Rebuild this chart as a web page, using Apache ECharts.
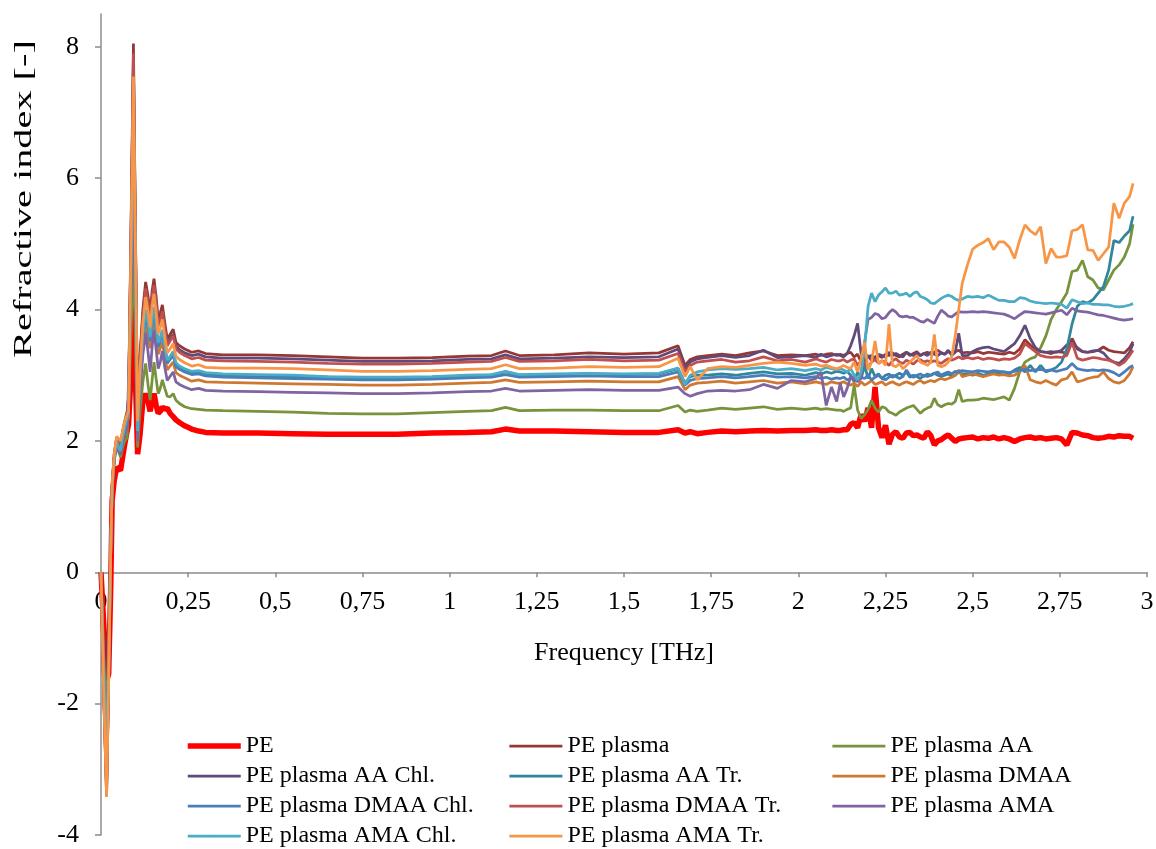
<!DOCTYPE html>
<html>
<head>
<meta charset="utf-8">
<title>Refractive index</title>
<script src="https://cdn.jsdelivr.net/npm/echarts@6.0.0/dist/echarts.min.js"></script>
<style>
  html, body { margin: 0; padding: 0; background: #fff; }
  #chart { width: 1156px; height: 849px; }
</style>
</head>
<body>
<div id="chart"></div>
<script>
// shared frequency grid [THz]: dense at the start and in the noisy tail
const freq = [
  0, 0.008, 0.016, 0.022, 0.028, 0.032, 0.038, 0.045, 0.05, 0.056, 0.062, 0.068, 0.075, 0.079, 0.086, 0.093, 0.099, 0.105, 0.112, 0.12,
  0.128, 0.135, 0.141, 0.147, 0.152, 0.158, 0.164, 0.17, 0.176, 0.183, 0.19, 0.198, 0.207, 0.215, 0.225, 0.24, 0.26, 0.28, 0.3,
  0.35, 0.45, 0.55, 0.65, 0.75, 0.85, 0.95, 1.05, 1.12, 1.16, 1.2, 1.3, 1.4, 1.5, 1.6, 1.655, 1.675, 1.69, 1.71, 1.74,
  1.78, 1.82, 1.86, 1.9, 1.94, 1.98, 2.02, 2.05, 2.065, 2.08, 2.095, 2.11,
  2.12, 2.13, 2.14, 2.15, 2.16, 2.17, 2.18, 2.19, 2.2, 2.21, 2.22, 2.23, 2.24, 2.25, 2.26, 2.27, 2.28, 2.29, 2.3, 2.31,
  2.32, 2.33, 2.34, 2.35, 2.36, 2.37, 2.38, 2.39, 2.4, 2.41, 2.42, 2.43, 2.44, 2.45, 2.46, 2.47,
  2.485, 2.5, 2.515, 2.53, 2.545, 2.56, 2.575, 2.59, 2.605, 2.62, 2.635, 2.65, 2.665, 2.68, 2.695, 2.71, 2.725, 2.74,
  2.755, 2.77, 2.785, 2.8, 2.815, 2.83, 2.845, 2.86, 2.875, 2.89, 2.905, 2.92, 2.935, 2.95, 2.96
];

const pe = [
  0, -0.8, -1.65, -1.55, -0.2, 1.1, 1.4, 1.6, 1.6, 1.55, 1.75, 1.95, 2.15, 2.25, 3.0, 4.05, 2.9, 1.8, 2.1, 2.6,
  2.72, 2.6, 2.45, 2.62, 2.72, 2.55, 2.42, 2.45, 2.52, 2.48, 2.5, 2.42, 2.37, 2.32, 2.28, 2.23, 2.18, 2.15, 2.13,
  2.12, 2.12, 2.11, 2.1, 2.1, 2.1, 2.12, 2.13, 2.14, 2.18, 2.15, 2.15, 2.14, 2.13, 2.13, 2.17, 2.12, 2.14, 2.11, 2.13,
  2.15, 2.14, 2.15, 2.16, 2.15, 2.16, 2.16, 2.17, 2.16, 2.16, 2.17, 2.16,
  2.16, 2.17, 2.17, 2.25, 2.28, 2.2, 2.4, 2.3, 2.5, 2.2, 2.82, 2.2, 2.05, 2.24, 1.95, 2.1, 2.14, 2.06, 2.04, 2.12,
  2.13, 2.08, 2.09, 2.06, 2.04, 2.14, 2.08, 1.94, 2.0, 2.02, 2.06, 2.09, 2.04, 1.99, 2.03, 2.04,
  2.05, 2.06, 2.03, 2.05, 2.04, 2.06, 2.03, 2.05, 2.03, 1.99, 2.03, 2.05, 2.06, 2.04, 2.05, 2.03, 2.04, 2.05,
  2.03, 1.94, 2.13, 2.12, 2.09, 2.08, 2.05, 2.04, 2.05, 2.07, 2.06, 2.08, 2.07, 2.07, 2.04
];

const pePlasma = [
  0, -1.9, -3.4, -1.6, 0.4, 1.35, 1.8, 2.05, 2.0, 1.95, 2.15, 2.3, 2.45, 2.65, 5.2, 8.05, 5.1, 2.4, 3.3, 4.0,
  4.42, 4.2, 3.95, 4.3, 4.47, 4.2, 3.85, 3.95, 4.07, 3.8, 3.55, 3.62, 3.7, 3.5, 3.45, 3.4, 3.35, 3.37, 3.33,
  3.31, 3.31, 3.3, 3.28, 3.26, 3.26, 3.27, 3.29, 3.3, 3.37, 3.3, 3.31, 3.34, 3.32, 3.34, 3.45, 3.15, 3.24, 3.28, 3.3,
  3.32, 3.3, 3.34, 3.37, 3.3, 3.31, 3.3, 3.32, 3.3, 3.32, 3.33, 3.3,
  3.32, 3.3, 3.33, 3.35, 3.28, 3.32, 3.2, 3.25, 3.3, 3.22, 3.28, 3.3, 3.27, 3.32, 3.3, 3.34, 3.3, 3.28, 3.32, 3.35,
  3.3, 3.33, 3.36, 3.3, 3.33, 3.35, 3.32, 3.35, 3.38, 3.34, 3.32, 3.36, 3.33, 3.36, 3.38, 3.34,
  3.35, 3.34, 3.36, 3.33, 3.35, 3.34, 3.33, 3.32, 3.35, 3.33, 3.4, 3.54, 3.46, 3.4, 3.36, 3.35, 3.33, 3.36,
  3.35, 3.34, 3.56, 3.4, 3.36, 3.35, 3.36, 3.38, 3.43, 3.38, 3.36, 3.35, 3.34, 3.42, 3.51
];

const plasmaAA = [
  0, -1.3, -2.3, -1.1, 0.35, 1.25, 1.7, 1.95, 1.85, 1.75, 1.9, 2.0, 2.05, 2.02, 3.6, 4.9, 3.5, 1.9, 2.45, 2.9,
  3.18, 2.85, 2.62, 2.95, 3.2, 2.95, 2.72, 2.8, 2.93, 2.8, 2.68, 2.67, 2.72, 2.62, 2.57, 2.52, 2.49, 2.48, 2.47,
  2.46, 2.45, 2.44, 2.42, 2.41, 2.41, 2.43, 2.45, 2.46, 2.51, 2.46, 2.47, 2.47, 2.46, 2.46, 2.54, 2.44, 2.47, 2.45, 2.47,
  2.5, 2.48, 2.5, 2.52, 2.48, 2.5, 2.48, 2.5, 2.48, 2.49, 2.48, 2.47,
  2.47, 2.45, 2.48, 2.5, 2.85, 2.47, 2.34, 2.4, 2.48, 2.62, 2.5, 2.44, 2.52, 2.5, 2.44, 2.42, 2.39, 2.44, 2.47, 2.5,
  2.52, 2.54, 2.48, 2.42, 2.47, 2.5, 2.52, 2.65, 2.55, 2.52, 2.55, 2.57, 2.56, 2.6, 2.78, 2.6,
  2.62, 2.62, 2.63, 2.65, 2.64, 2.63, 2.65, 2.67, 2.62, 2.8, 3.05, 3.2, 3.25, 3.28, 3.42, 3.6, 3.85, 4.0,
  4.12, 4.25, 4.58, 4.6, 4.75, 4.5, 4.45, 4.33, 4.3, 4.45, 4.6, 4.68, 4.8, 5.0, 5.3
];

const plasmaAAChl = [
  0, -1.85, -3.3, -1.55, 0.4, 1.3, 1.75, 2.0, 1.9, 1.85, 2.05, 2.2, 2.35, 2.65, 5.0, 7.8, 4.9, 2.3, 3.25, 3.9,
  4.29, 4.09, 3.86, 4.18, 4.34, 4.09, 3.76, 3.86, 3.97, 3.72, 3.48, 3.55, 3.62, 3.44, 3.39, 3.34, 3.3, 3.32, 3.28,
  3.26, 3.26, 3.25, 3.23, 3.21, 3.21, 3.22, 3.24, 3.25, 3.31, 3.25, 3.26, 3.28, 3.27, 3.28, 3.4, 3.1, 3.2, 3.25, 3.27,
  3.3, 3.27, 3.3, 3.38, 3.27, 3.28, 3.3, 3.27, 3.32, 3.28, 3.3, 3.32,
  3.3, 3.28, 3.33, 3.45, 3.6, 3.79, 3.33, 3.2, 3.28, 3.3, 3.25, 3.32, 3.3, 3.28, 3.35, 3.3, 3.33, 3.3, 3.28, 3.35,
  3.32, 3.3, 3.34, 3.3, 3.33, 3.3, 3.35, 3.32, 3.3, 3.34, 3.32, 3.38, 3.3, 3.35, 3.64, 3.3,
  3.3, 3.36, 3.4, 3.42, 3.43, 3.4, 3.38, 3.36, 3.42, 3.48, 3.6, 3.76, 3.56, 3.42, 3.36, 3.35, 3.36, 3.35,
  3.38, 3.46, 3.5, 3.42, 3.36, 3.35, 3.37, 3.38, 3.34, 3.25, 3.2, 3.18, 3.25, 3.35, 3.48
];

const plasmaAATr = [
  0, -1.6, -2.9, -1.4, 0.4, 1.3, 1.75, 2.0, 1.85, 1.8, 2.0, 2.15, 2.3, 2.44, 4.6, 7.0, 4.5, 2.1, 2.99, 3.59,
  3.95, 3.76, 3.55, 3.84, 3.99, 3.76, 3.46, 3.55, 3.65, 3.42, 3.21, 3.27, 3.33, 3.16, 3.12, 3.08, 3.04, 3.05, 3.02,
  3.0, 2.99, 2.98, 2.97, 2.96, 2.96, 2.97, 2.99, 3.0, 3.05, 3.0, 3.01, 3.02, 3.01, 3.02, 3.1, 2.88, 2.98, 3.0, 3.0,
  3.02, 3.0, 3.03, 3.05, 3.02, 3.03, 3.0, 3.04, 3.02, 3.05, 3.03, 3.06,
  3.05, 3.03, 3.06, 3.0, 2.9, 3.05, 2.95, 3.15, 2.95, 3.1, 2.98, 3.02, 2.95, 3.0, 3.02, 2.97, 3.0, 3.03, 3.0, 3.05,
  2.97, 3.0, 2.98, 2.95, 3.0, 2.98, 3.0, 3.03, 3.0, 2.98, 3.0, 3.02, 2.98, 3.0, 3.05, 3.02,
  3.02, 3.0, 3.03, 3.0, 3.02, 3.05, 3.03, 3.05, 3.02, 3.08, 3.12, 3.05, 3.15, 3.05, 3.15, 3.05, 3.08, 3.12,
  3.2, 3.4, 3.78, 4.05, 4.12, 4.1, 4.15, 4.25, 4.35, 4.6, 5.05, 5.02, 5.12, 5.2, 5.42
];

const plasmaDMAA = [
  0, -1.75, -3.2, -1.5, 0.35, 1.3, 1.75, 2.0, 1.95, 1.9, 2.05, 2.2, 2.3, 2.34, 4.4, 6.6, 4.3, 2.05, 2.87, 3.45,
  3.79, 3.61, 3.41, 3.69, 3.83, 3.61, 3.32, 3.41, 3.5, 3.28, 3.08, 3.14, 3.2, 3.04, 3.0, 2.96, 2.91, 2.93, 2.9,
  2.89, 2.88, 2.87, 2.86, 2.85, 2.85, 2.86, 2.88, 2.89, 2.93, 2.89, 2.9, 2.91, 2.9, 2.9, 2.98, 2.78, 2.85, 2.88, 2.89,
  2.91, 2.88, 2.9, 2.92, 2.88, 2.9, 2.87, 2.9, 2.88, 2.86, 2.9, 2.88,
  2.88, 2.9, 2.87, 2.85, 2.88, 2.83, 2.9, 2.85, 2.88, 2.92, 2.86, 2.88, 2.9, 2.85, 2.88, 2.9, 2.87, 2.85, 2.88, 2.9,
  2.88, 2.86, 2.9, 2.92, 2.88, 2.9, 2.92, 2.9, 2.93, 2.95, 2.93, 2.95, 2.97, 3.0, 3.08, 2.98,
  3.0, 3.02, 3.0, 2.98, 3.0, 3.02, 3.0, 3.01, 2.99, 3.0, 3.05, 3.15, 2.93, 2.9, 2.88, 2.92, 2.88, 2.85,
  2.93, 2.95, 3.05, 2.9, 2.92, 2.95, 2.97, 2.98, 3.05, 2.95, 2.9, 2.88, 2.92, 3.02, 3.13
];

const plasmaDMAAChl = [
  0, -1.65, -3.0, -1.45, 0.4, 1.3, 1.75, 2.0, 1.9, 1.85, 2.05, 2.2, 2.35, 2.41, 4.5, 6.9, 4.4, 2.1, 2.96, 3.56,
  3.92, 3.73, 3.52, 3.81, 3.96, 3.73, 3.43, 3.52, 3.62, 3.39, 3.18, 3.24, 3.3, 3.13, 3.09, 3.05, 3.01, 3.02, 2.99,
  2.97, 2.96, 2.95, 2.94, 2.93, 2.93, 2.94, 2.96, 2.97, 3.01, 2.97, 2.98, 2.99, 2.98, 2.98, 3.05, 2.85, 2.92, 2.95, 2.96,
  2.98, 2.96, 2.98, 3.0, 2.97, 2.98, 2.96, 2.98, 2.95, 2.97, 2.94, 2.96,
  2.95, 2.97, 2.93, 2.95, 2.98, 2.92, 2.97, 2.95, 3.0, 2.93, 2.97, 3.0, 2.95, 2.93, 2.97, 3.0, 2.98, 2.95, 2.98, 3.08,
  3.0, 2.97, 3.0, 3.02, 2.98, 3.02, 3.0, 3.03, 3.05, 3.0, 3.03, 3.05, 3.02, 3.06, 3.05, 3.07,
  3.06, 3.05, 3.07, 3.06, 3.05, 3.07, 3.06, 3.05, 3.04, 3.06, 3.08, 3.09, 3.07, 3.08, 3.09, 3.07, 3.08, 3.06,
  3.08, 3.1, 3.18, 3.1, 3.08, 3.07, 3.08, 3.07, 3.08, 3.07, 3.04, 2.99, 3.05, 3.12, 3.15
];

const plasmaDMAATr = [
  0, -1.9, -3.35, -1.6, 0.4, 1.35, 1.8, 2.05, 2.0, 1.9, 2.1, 2.25, 2.4, 2.55, 5.1, 7.9, 5.0, 2.35, 3.2, 3.9,
  4.32, 4.1, 3.85, 4.2, 4.37, 4.1, 3.75, 3.85, 3.97, 3.7, 3.45, 3.52, 3.6, 3.4, 3.35, 3.3, 3.25, 3.27, 3.23,
  3.22, 3.21, 3.2, 3.18, 3.17, 3.17, 3.18, 3.2, 3.21, 3.27, 3.21, 3.22, 3.24, 3.22, 3.23, 3.33, 3.05, 3.15, 3.2, 3.22,
  3.24, 3.2, 3.22, 3.28, 3.22, 3.24, 3.2, 3.25, 3.22, 3.2, 3.24, 3.22,
  3.22, 3.24, 3.2, 3.23, 3.25, 3.15, 3.22, 3.18, 3.12, 3.2, 3.24, 3.18, 3.22, 3.2, 3.15, 3.22, 3.25, 3.2, 3.18, 3.23,
  3.2, 3.17, 3.22, 3.24, 3.2, 3.22, 3.2, 3.22, 3.2, 3.18, 3.22, 3.25, 3.23, 3.25, 3.28, 3.25,
  3.27, 3.25, 3.27, 3.24, 3.26, 3.25, 3.23, 3.25, 3.24, 3.26, 3.32, 3.48, 3.42, 3.36, 3.3, 3.28, 3.27, 3.28,
  3.27, 3.3, 3.5, 3.26, 3.23, 3.25, 3.27, 3.26, 3.24, 3.23, 3.2, 3.15, 3.2, 3.3, 3.38
];

const plasmaAMA = [
  0, -1.7, -3.1, -1.5, 0.35, 1.25, 1.7, 1.95, 1.85, 1.8, 2.0, 2.1, 2.2, 2.22, 4.2, 6.2, 4.1, 2.0, 2.74, 3.31,
  3.65, 3.35, 3.05, 3.45, 3.69, 3.4, 3.1, 3.2, 3.37, 3.12, 2.92, 2.98, 3.05, 2.9, 2.86, 2.82, 2.78, 2.8, 2.77,
  2.76, 2.75, 2.74, 2.73, 2.72, 2.72, 2.73, 2.75, 2.76, 2.8, 2.76, 2.77, 2.78, 2.77, 2.77, 2.82, 2.72, 2.68, 2.72, 2.76,
  2.77, 2.76, 2.78, 2.86, 2.8, 2.92, 2.9, 2.95, 3.05, 2.54, 2.82, 2.6,
  2.88, 2.67, 2.8, 2.98, 2.95, 2.9, 2.95, 3.5, 3.85, 3.88, 3.94, 3.92, 3.86, 3.88, 3.95, 4.0, 3.96, 3.9, 3.89, 3.9,
  3.88, 3.88, 3.85, 3.82, 3.81, 3.85, 3.82, 3.79, 3.9, 3.99, 3.95, 3.9, 3.89, 3.93, 3.97, 3.96,
  3.96, 3.97, 3.96, 3.97, 3.96, 3.95, 3.94, 3.93, 3.9, 3.86, 3.92, 3.97, 3.96, 3.95, 3.94, 3.93, 3.95, 3.97,
  3.99, 3.92, 4.02, 3.98, 3.97, 3.96, 3.94, 3.92, 3.91, 3.89, 3.87, 3.85, 3.84, 3.85, 3.86
];

const plasmaAMAChl = [
  0, -1.5, -2.7, -1.3, 0.4, 1.3, 1.75, 2.0, 1.9, 1.85, 2.05, 2.2, 2.35, 2.44, 4.7, 7.2, 4.6, 2.15, 3.01, 3.63,
  4.0, 3.8, 3.58, 3.89, 4.04, 3.8, 3.5, 3.58, 3.69, 3.45, 3.23, 3.29, 3.36, 3.19, 3.14, 3.1, 3.06, 3.07, 3.04,
  3.02, 3.01, 3.0, 2.98, 2.97, 2.97, 2.98, 3.0, 3.01, 3.06, 3.01, 3.02, 3.03, 3.02, 3.03, 3.11, 2.86, 3.0, 3.05, 3.08,
  3.1, 3.09, 3.1, 3.12, 3.08, 3.1, 3.07, 3.1, 3.08, 3.12, 3.1, 3.08,
  3.1, 3.08, 3.05, 3.1, 3.0, 2.93, 3.05, 3.4, 4.05, 4.25, 4.12, 4.22, 4.27, 4.33, 4.25, 4.25, 4.28, 4.22, 4.23, 4.25,
  4.2, 4.25, 4.27, 4.2, 4.18, 4.15, 4.1, 4.09, 4.13, 4.17, 4.2, 4.22, 4.2, 4.16, 4.14, 4.16,
  4.2, 4.19, 4.2, 4.18, 4.22, 4.18, 4.14, 4.14, 4.12, 4.12, 4.18, 4.17, 4.13, 4.11, 4.1, 4.09, 4.1, 4.09,
  4.08, 4.02, 4.15, 4.12, 4.09, 4.1, 4.08, 4.08, 4.07, 4.07, 4.05, 4.04, 4.05, 4.07, 4.09
];

const plasmaAMATr = [
  0, -1.9, -3.42, -1.65, 0.35, 1.35, 1.8, 2.07, 2.05, 2.0, 2.15, 2.3, 2.4, 2.45, 4.9, 7.55, 4.8, 2.3, 3.09, 3.78,
  4.19, 3.97, 3.73, 4.07, 4.24, 3.97, 3.63, 3.73, 3.85, 3.58, 3.34, 3.4, 3.48, 3.29, 3.24, 3.19, 3.14, 3.16, 3.12,
  3.11, 3.11, 3.1, 3.08, 3.06, 3.06, 3.07, 3.09, 3.1, 3.16, 3.1, 3.11, 3.13, 3.12, 3.13, 3.26, 2.98, 3.13, 2.93, 3.1,
  3.13, 3.12, 3.15, 3.18, 3.2, 3.18, 3.15, 3.17, 3.14, 3.15, 3.12, 3.1,
  3.12, 3.15, 3.12, 3.1, 3.2, 3.05, 3.25, 3.5, 3.08, 3.2, 3.52, 3.18, 3.22, 3.15, 3.78, 3.15, 3.13, 3.18, 3.1, 3.15,
  3.2, 3.25, 3.3, 3.2, 3.18, 3.15, 3.2, 3.62, 3.15, 3.13, 3.15, 3.2, 3.28, 3.6, 4.0, 4.4,
  4.68, 4.92, 4.98, 5.02, 5.08, 4.91, 5.03, 5.03, 4.95, 4.78, 5.06, 5.29, 5.2, 5.14, 5.26, 4.7, 4.93, 4.8,
  4.8, 4.82, 5.2, 5.22, 5.29, 4.91, 4.9, 4.75, 4.85, 4.95, 5.62, 5.39, 5.62, 5.72, 5.92
];

const xTicks = [0, 0.25, 0.5, 0.75, 1, 1.25, 1.5, 1.75, 2, 2.25, 2.5, 2.75, 3];
const yTicks = [-4, -2, 0, 2, 4, 6, 8];

const serif = "'Liberation Serif', 'Times New Roman', serif";

const seriesDefs = [
  { name: 'PE', values: pe, color: '#FF0000', width: 5.5 },
  { name: 'PE plasma', values: pePlasma, color: '#953735', width: 2.75 },
  { name: 'PE plasma AA', values: plasmaAA, color: '#77933C', width: 2.75 },
  { name: 'PE plasma AA Chl.', values: plasmaAAChl, color: '#604A7B', width: 2.75 },
  { name: 'PE plasma AA Tr.', values: plasmaAATr, color: '#31859C', width: 2.75 },
  { name: 'PE plasma DMAA', values: plasmaDMAA, color: '#CF7830', width: 2.75 },
  { name: 'PE plasma DMAA Chl.', values: plasmaDMAAChl, color: '#4A7EBB', width: 2.75 },
  { name: 'PE plasma DMAA Tr.', values: plasmaDMAATr, color: '#C0504D', width: 2.75 },
  { name: 'PE plasma AMA', values: plasmaAMA, color: '#8064A2', width: 2.75 },
  { name: 'PE plasma AMA Chl.', values: plasmaAMAChl, color: '#4BACC6', width: 2.75 },
  { name: 'PE plasma AMA Tr.', values: plasmaAMATr, color: '#F79646', width: 2.75 }
];

seriesDefs.forEach(d => {
  if (d.values.length !== freq.length) console.error(d.name, d.values.length, freq.length);
});

const chart = echarts.init(document.getElementById('chart'));

// y range is -4..8.5 over 821 px, so value 0 sits 4/12.5 of the height above the bottom
const gridBottom = 14;
const gridHeight = 849 - 14 - gridBottom;
const zeroOffset = gridHeight * 4 / 12.5;

const legendBase = {
  orient: 'vertical',
  top: 734,
  height: 130,
  padding: 0,
  itemWidth: 53,
  itemHeight: 1,
  itemGap: 6,
  selectedMode: false,
  lineStyle: { width: 'inherit' },
  textStyle: { fontFamily: serif, fontSize: 24, color: '#000' }
};
const names = seriesDefs.map(d => d.name);

const axisLine = { lineStyle: { color: '#8c8c8c', width: 1.5 } };

const option = {
  animation: false,
  backgroundColor: '#fff',
  grid: {
    left: 101, right: 9, top: 14, bottom: gridBottom,
    containLabel: false,
    outerBoundsMode: 'none'
  },
  xAxis: {
    type: 'value',
    min: 0,
    max: 3,
    interval: 0.25,
    position: 'bottom',
    offset: -zeroOffset,
    name: 'Frequency [THz]',
    nameLocation: 'middle',
    nameGap: 68,
    nameTextStyle: { fontFamily: serif, fontSize: 26, color: '#000' },
    axisLine: { onZero: false, ...axisLine },
    axisTick: { show: true, length: 5, lineStyle: { color: '#8c8c8c', width: 1.5 } },
    axisLabel: {
      customValues: xTicks,
      margin: 17,
      fontFamily: serif,
      fontSize: 26,
      color: '#000',
      formatter: v => String(v).replace('.', ',')
    },
    splitLine: { show: false }
  },
  yAxis: {
    type: 'value',
    min: -4,
    max: 8.5,
    axisLine: { show: true, onZero: false, ...axisLine },
    axisTick: { show: true, length: 6, customValues: yTicks, lineStyle: { color: '#8c8c8c', width: 1.5 } },
    axisLabel: {
      customValues: yTicks,
      margin: 22,
      fontFamily: serif,
      fontSize: 26,
      color: '#000'
    },
    splitLine: { show: false }
  },
  legend: [
    { ...legendBase, left: 185, data: [names[0], names[3], names[6], names[9]] },
    { ...legendBase, left: 508, data: [names[1], names[4], names[7], names[10]] },
    { ...legendBase, left: 831, data: [names[2], names[5], names[8]] }
  ],
  graphic: [{
    type: 'text',
    x: 24,
    y: 199,
    rotation: Math.PI / 2,
    scaleX: 1.55,
    style: {
      text: 'Refractive index [-]',
      font: '26px ' + serif,
      fill: '#000',
      textAlign: 'center',
      textVerticalAlign: 'middle',
      align: 'center',
      verticalAlign: 'middle'
    }
  }],
  series: seriesDefs.map(d => ({
    name: d.name,
    type: 'line',
    data: freq.map((f, i) => [f, d.values[i]]),
    symbol: 'none',
    silent: true,
    lineStyle: { color: d.color, width: d.width },
    itemStyle: { color: d.color },
    emphasis: { disabled: true }
  }))
};

chart.setOption(option);
</script>
</body>
</html>
